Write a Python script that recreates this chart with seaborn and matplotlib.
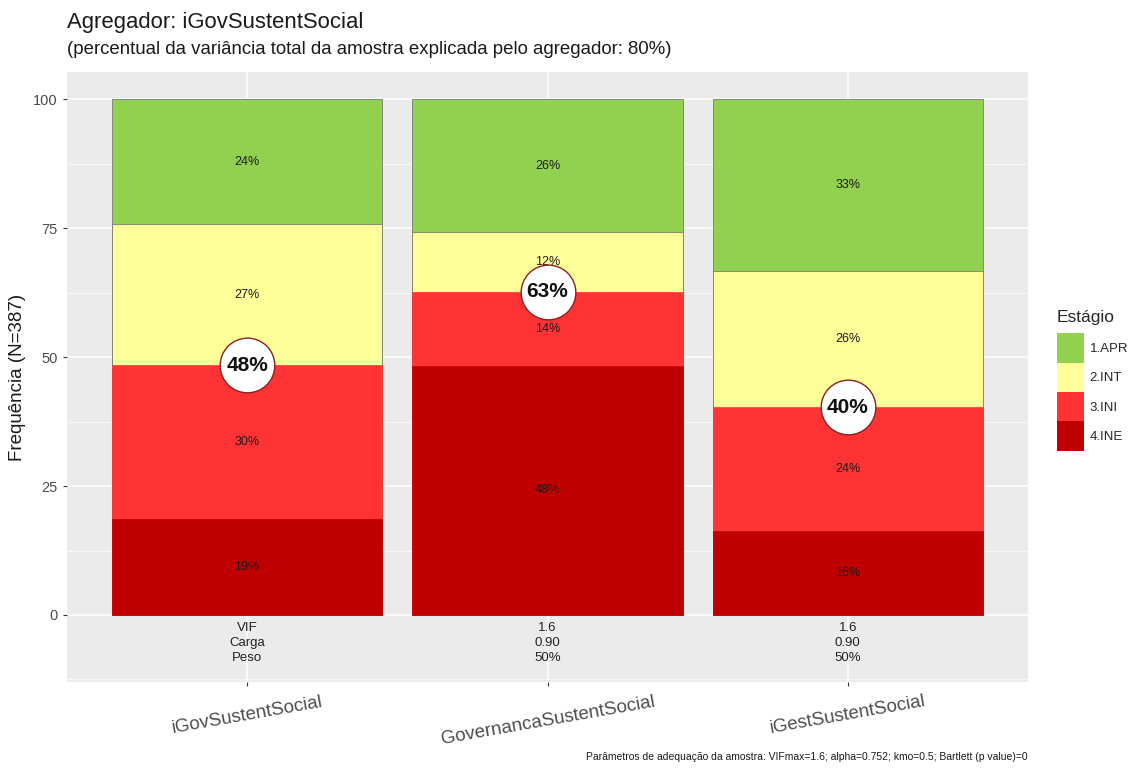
import pandas as pd
import seaborn as sns
import matplotlib.pyplot as plt
from matplotlib.patches import Patch
from matplotlib.ticker import MultipleLocator

# ---------------------------------------------
# DATA
# ---------------------------------------------

indicadores = ["iGovSustentSocial", "GovernancaSustentSocial", "iGestSustentSocial"]
estagios = ["1.APR", "2.INT", "3.INI", "4.INE"]
cores = ["#92D050", "#FFFF99", "#FF3333", "#C00000"]

apr = [24.2, 25.7, 33.3]
int_ = [27.4, 11.6, 26.4]
ini = [29.8, 14.4, 24.0]
ine = [18.6, 48.3, 16.3]

linha_vif = ["VIF", "1.6", "1.6"]
linha_carga = ["Carga", "0.90", "0.90"]
linha_peso = ["Peso", "50%", "50%"]

titulo = "Agregador: iGovSustentSocial"
subtitulo = "(percentual da variância total da amostra explicada pelo agregador: 80%)"
rodape = "Parâmetros de adequação da amostra: VIFmax=1.6; alpha=0.752; kmo=0.5; Bartlett (p value)=0"

# ---------------------------------------------
# TABLE (cumulative from bottom)
# ---------------------------------------------

valores = {"1.APR": apr, "2.INT": int_, "3.INI": ini, "4.INE": ine}

linhas = []
for i, ind in enumerate(indicadores):
    base = 0
    for est in estagios[::-1]:
        v = valores[est][i]
        linhas.append({"indicador": ind, "estagio": est, "valor": v,
                       "base": base, "topo": base + v})
        base += v
df = pd.DataFrame(linhas)

# ---------------------------------------------
# STYLE
# ---------------------------------------------

sns.set_theme(style="darkgrid", rc={
    "axes.facecolor": "#EBEBEB",
    "grid.color": "white",
    "axes.edgecolor": "#EBEBEB",
})
plt.rcParams["font.family"] = ["Liberation Sans", "DejaVu Sans"]

fig = plt.figure(figsize=(11.41, 7.69), dpi=100)
ax = fig.add_axes([0.0587, 0.1131, 0.8423, 0.7933])

# ---------------------------------------------
# STACKED BARS (tallest first)
# ---------------------------------------------

for est, cor in zip(estagios, cores):
    sub = df[df["estagio"] == est]
    sns.barplot(
        data=sub, x="indicador", y="topo", order=indicadores,
        color=cor, width=0.9, errorbar=None, saturation=1,
        edgecolor="#6b6b6b" if est in ("1.APR", "2.INT") else cor,
        linewidth=0.5, ax=ax
    )

# segment labels
for _, r in df.iterrows():
    x = indicadores.index(r["indicador"])
    ax.text(x, r["base"] + r["valor"] / 2, f"{round(r['valor']):.0f}%",
            ha="center", va="center", fontsize=9, color="#1a1a1a")

# circles with INE + INI
for i, ind in enumerate(indicadores):
    y = ine[i] + ini[i]
    ax.scatter([i], [y], s=1550, facecolor="white", edgecolor="#8B2020",
               linewidth=1, zorder=5)
    ax.text(i, y, f"{round(y):.0f}%", ha="center", va="center",
            fontsize=15, fontweight="bold", color="#111111", zorder=6)

# VIF / Carga / Peso under bars
for i in range(len(indicadores)):
    ax.text(i, -1.3, f"{linha_vif[i]}\n{linha_carga[i]}\n{linha_peso[i]}",
            ha="center", va="top", fontsize=9.5, color="#222222",
            linespacing=1.35)

# ---------------------------------------------
# AXES
# ---------------------------------------------

ax.set_xlim(-0.6, 2.6)
ax.set_ylim(-13, 105.3)
ax.set_yticks([0, 25, 50, 75, 100])
ax.yaxis.set_minor_locator(MultipleLocator(12.5))
ax.grid(which="major", color="white", linewidth=1.1)
ax.grid(which="minor", axis="y", color="white", linewidth=0.5)
ax.set_axisbelow(True)

ax.tick_params(axis="both", which="major", length=3, width=0.8,
               color="#333333", labelcolor="#4D4D4D", labelsize=10.5,
               bottom=True, left=True)
ax.tick_params(axis="y", which="minor", length=0)
ax.tick_params(axis="x", labelsize=13.5, pad=5)
plt.setp(ax.get_xticklabels(), rotation=10, ha="center")

ax.set_xlabel("")
ax.set_ylabel("Frequência (N=387)", fontsize=13.5, color="#1a1a1a", labelpad=5)
for s in ax.spines.values():
    s.set_visible(False)

# ---------------------------------------------
# TITLES / CAPTION
# ---------------------------------------------

fig.text(0.0587, 0.971, titulo, fontsize=15.9, ha="left", va="center",
         color="#1a1a1a")
fig.text(0.0587, 0.935, subtitulo, fontsize=13.4, ha="left", va="center",
         color="#1a1a1a")
fig.text(0.901, 0.016, rodape, fontsize=7.5, ha="right", va="center",
         color="#1a1a1a")

# ---------------------------------------------
# LEGEND
# ---------------------------------------------

handles = [Patch(facecolor=c, edgecolor="none", label=e)
           for e, c in zip(estagios, cores)]
leg = fig.legend(
    handles=handles, title="Estágio", loc="upper left",
    bbox_to_anchor=(0.926, 0.597), frameon=False, fontsize=9.5,
    title_fontsize=12.5, handlelength=2.1, handleheight=3.05,
    labelspacing=0.0, handletextpad=0.4, borderaxespad=0, borderpad=0
)
leg._legend_box.align = "left"
leg._legend_box.sep = 6

fig.savefig("out.png", dpi=100)
plt.close(fig)
